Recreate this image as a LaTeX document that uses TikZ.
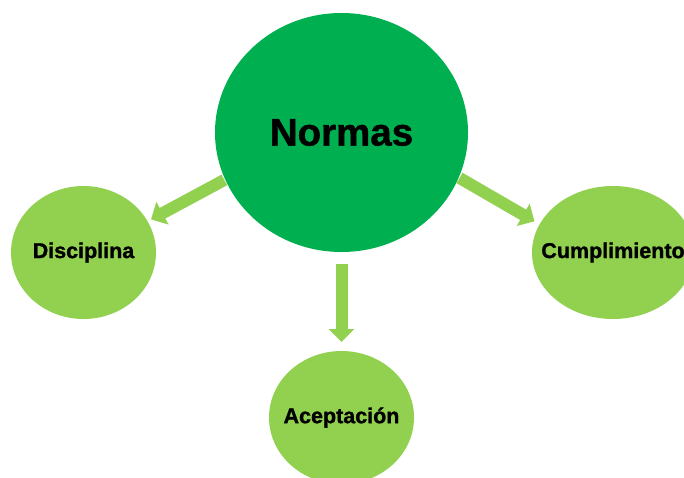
\documentclass[tikz,border=0pt]{standalone}
\usepackage{fontspec}
\setmainfont{Liberation Sans}
\newfontfamily\negrita[FakeBold=1.2]{Liberation Sans Bold}
\usetikzlibrary{shapes.geometric,positioning,arrows.meta}
\definecolor{verdeosc}{HTML}{00B050}
\definecolor{verdeclaro}{HTML}{92D050}
\newcommand{\texto}[1]{\makebox[0pt]{#1}}
\begin{document}
\begin{tikzpicture}[x=1pt,y=-1pt]
    \tikzstyle{centro} = [shape=ellipse, fill=verdeosc, minimum width=253pt, minimum height=239pt, inner sep=0pt, outer sep=0pt, font=\negrita\fontsize{38.5}{40}\selectfont]
    \tikzstyle{hoja} = [shape=ellipse, fill=verdeclaro, minimum width=145pt, minimum height=133pt, inner sep=0pt, outer sep=0pt, font=\negrita\fontsize{21.5}{24}\selectfont]
    \tikzstyle{flecha} = [draw=verdeclaro, line width=12pt, -{Triangle[width=25pt,length=13pt]}]

    \clip (0,0) rectangle (684,477);

    \node [centro] at (341.5,132.5) (norm) {\texto{Normas}};
    \node [hoja] at (83.5,252.5) (disc) {\texto{Disciplina}};
    \node [hoja, minimum width=162pt] at (613,252.5) (cump) {\texto{Cumplimiento}};
    \node [hoja, below=99pt of norm] (acep) {\texto{Aceptación}};

    \begin{scope}[flecha]
    \draw [shorten <=1pt, shorten >=4pt] (norm.202) -- (disc.26);
    \draw [shorten <=1pt, shorten >=6pt] (norm.339) -- (cump.159);
    \draw [shorten <=12pt, shorten >=9pt] (norm) -- (acep);
    \end{scope}
\end{tikzpicture}
\end{document}
